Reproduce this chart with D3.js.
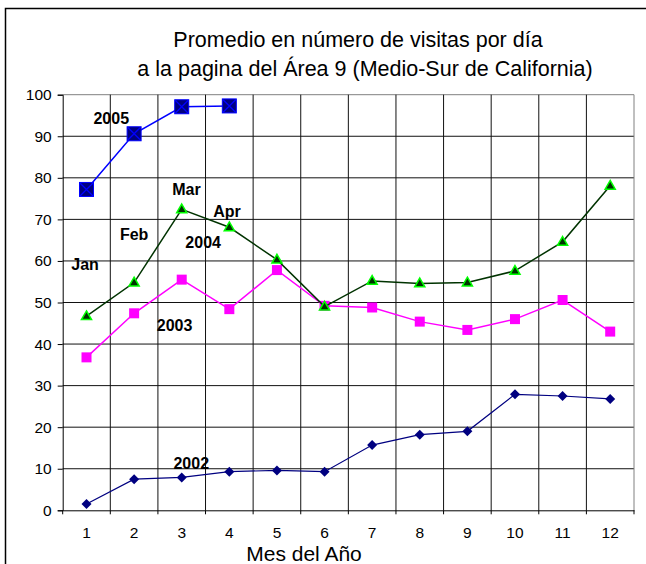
<!DOCTYPE html>
<html>
<head>
<meta charset="utf-8">
<script src="https://cdn.jsdelivr.net/npm/d3@7"></script>
<style>
  body { margin: 0; background: #fff; }
  text { font-family: Arial, "Liberation Sans", sans-serif; }
</style>
</head>
<body>
<script>
// months on the x axis
var months = [1, 2, 3, 4, 5, 6, 7, 8, 9, 10, 11, 12];
var yTicks = [0, 10, 20, 30, 40, 50, 60, 70, 80, 90, 100];

// average visits per day
var v2002 = [1.5, 7.5, 7.9, 9.3, 9.6, 9.3, 15.7, 18.2, 19, 27.9, 27.5, 26.8];
var v2003 = [36.8, 47.4, 55.5, 48.4, 57.8, 49.2, 48.8, 45.4, 43.4, 46, 50.6, 43];
var v2004 = [46.7, 54.8, 72.4, 68.1, 60.3, 49, 55.2, 54.6, 54.8, 57.6, 64.6, 78.1];
var v2005 = [77.2, 90.6, 97.1, 97.3];

// text notes put inside the chart (month, value where they sit)
var notes = [
    { text: "2005", m: 1.52, v: 94.2 },
    { text: "Mar", m: 3.1, v: 77.3 },
    { text: "Apr", m: 3.95, v: 72 },
    { text: "Feb", m: 2.0, v: 66.3 },
    { text: "2004", m: 3.45, v: 64.5 },
    { text: "Jan", m: 0.97, v: 59.2 },
    { text: "2003", m: 2.85, v: 44.5 },
    { text: "2002", m: 3.2, v: 11.2 }
];

var width = 646, height = 564;
// note: "top" is taken by window.top, so the plot edges get their own names
var plotL = 62.7, plotR = 634, plotT = 94.7, plotB = 510.3;

var svg = d3.select("body")
    .append("svg")
    .attr("width", width)
    .attr("height", height);

// outer frame of the chart (right and bottom run off the picture)
svg.append("rect")
    .attr("x", 5.5)
    .attr("y", 8.5)
    .attr("width", 700)
    .attr("height", 700)
    .attr("fill", "none")
    .attr("stroke", "#000")
    .attr("stroke-width", 1.5);

var x = d3.scaleBand()
    .domain(months)
    .range([plotL, plotR]);

var y = d3.scaleLinear()
    .domain([0, 100])
    .range([plotB, plotT]);

// a linear scale for the category borders (gridlines and ticks)
var xb = d3.scaleLinear()
    .domain([0.5, 12.5])
    .range([plotL, plotR]);

// title, two lines
svg.append("text")
    .attr("x", 358)
    .attr("y", 47)
    .attr("text-anchor", "middle")
    .attr("font-size", "21.5px")
    .text("Promedio en número de visitas por día");
svg.append("text")
    .attr("x", 365)
    .attr("y", 76)
    .attr("text-anchor", "middle")
    .attr("font-size", "21.5px")
    .text("a la pagina del Área 9 (Medio-Sur de California)");

// horizontal gridlines
svg.append("g")
    .selectAll("line")
    .data(yTicks.slice(1))
    .enter()
    .append("line")
    .attr("x1", plotL)
    .attr("x2", plotR)
    .attr("y1", function(d){ return y(d); })
    .attr("y2", function(d){ return y(d); })
    .attr("stroke", function(d){ return d == 100 ? "#808080" : "#111"; })
    .attr("stroke-width", 1);

// vertical gridlines on the month borders
svg.append("g")
    .selectAll("line")
    .data(months)
    .enter()
    .append("line")
    .attr("x1", function(d){ return xb(d + 0.5); })
    .attr("x2", function(d){ return xb(d + 0.5); })
    .attr("y1", plotT)
    .attr("y2", plotB)
    .attr("stroke", function(d){ return d == 12 ? "#808080" : "#111"; })
    .attr("stroke-width", 1);

// y axis
var yAxis = d3.axisLeft(y)
    .tickValues(yTicks)
    .tickSize(5)
    .tickPadding(6);
var gy = svg.append("g")
    .attr("transform", "translate(" + plotL + ",0)")
    .call(yAxis);
gy.selectAll("text")
    .attr("font-size", "15.5px")
    .attr("font-family", "Arial, 'Liberation Sans', sans-serif")
    .attr("fill", "#000");
gy.selectAll("line, path").attr("stroke", "#000");

// x axis: labels in the middle of each month, ticks on the borders
var xAxis = d3.axisBottom(x)
    .tickSize(0)
    .tickPadding(17);
var gx = svg.append("g")
    .attr("transform", "translate(0," + plotB + ")")
    .call(xAxis);
gx.select("path").attr("stroke", "#000");
gx.selectAll("text")
    .attr("font-size", "15.5px")
    .attr("font-family", "Arial, 'Liberation Sans', sans-serif")
    .attr("fill", "#000");

svg.append("g")
    .selectAll("line")
    .data(d3.range(0, 13))
    .enter()
    .append("line")
    .attr("x1", function(d){ return xb(d + 0.5); })
    .attr("x2", function(d){ return xb(d + 0.5); })
    .attr("y1", plotB)
    .attr("y2", plotB + 4)
    .attr("stroke", "#000");

// axis title
svg.append("text")
    .attr("x", 304)
    .attr("y", 561)
    .attr("text-anchor", "middle")
    .attr("font-size", "21px")
    .text("Mes del Año");

// line helper
var line = d3.line()
    .x(function(d, i){ return x(months[i]) + x.bandwidth() / 2; })
    .y(function(d){ return y(d); });

function cx(i) { return x(months[i]) + x.bandwidth() / 2; }

// 2002 - navy with diamonds
svg.append("path")
    .datum(v2002)
    .attr("d", line)
    .attr("fill", "none")
    .attr("stroke", "#000080")
    .attr("stroke-width", 1.2);
svg.append("g")
    .selectAll("path")
    .data(v2002)
    .enter()
    .append("path")
    .attr("d", d3.symbol().type(d3.symbolSquare).size(50))
    .attr("transform", function(d, i){ return "translate(" + cx(i) + "," + y(d) + ") rotate(45)"; })
    .attr("fill", "#000080");

// 2003 - magenta with squares
svg.append("path")
    .datum(v2003)
    .attr("d", line)
    .attr("fill", "none")
    .attr("stroke", "#FF00FF")
    .attr("stroke-width", 1.5);
svg.append("g")
    .selectAll("rect")
    .data(v2003)
    .enter()
    .append("rect")
    .attr("x", function(d, i){ return cx(i) - 5; })
    .attr("y", function(d){ return y(d) - 5; })
    .attr("width", 10)
    .attr("height", 10)
    .attr("fill", "#FF00FF");

// 2004 - dark green with triangles
svg.append("path")
    .datum(v2004)
    .attr("d", line)
    .attr("fill", "none")
    .attr("stroke", "#003300")
    .attr("stroke-width", 1.5);
svg.append("g")
    .selectAll("path")
    .data(v2004)
    .enter()
    .append("path")
    .attr("d", d3.symbol().type(d3.symbolTriangle).size(44))
    .attr("transform", function(d, i){ return "translate(" + cx(i) + "," + (y(d) + 0.5) + ")"; })
    .attr("fill", "#003300")
    .attr("stroke", "#00FF00")
    .attr("stroke-width", 1.5);

// 2005 - blue line, navy squares with an x
svg.append("path")
    .datum(v2005)
    .attr("d", line)
    .attr("fill", "none")
    .attr("stroke", "#0000FF")
    .attr("stroke-width", 1.5);
var m05 = svg.append("g")
    .selectAll("g")
    .data(v2005)
    .enter()
    .append("g")
    .attr("transform", function(d, i){ return "translate(" + cx(i) + "," + y(d) + ")"; });
m05.append("rect")
    .attr("x", -7)
    .attr("y", -7)
    .attr("width", 14)
    .attr("height", 14)
    .attr("fill", "#000080")
    .attr("stroke", "#0000FF")
    .attr("stroke-width", 1);
m05.append("path")
    .attr("d", "M-6.5,-6.5L6.5,6.5M-6.5,6.5L6.5,-6.5")
    .attr("stroke", "#0000FF")
    .attr("stroke-width", 1.3);

// notes
svg.append("g")
    .selectAll("text")
    .data(notes)
    .enter()
    .append("text")
    .attr("x", function(d){ return xb(d.m); })
    .attr("y", function(d){ return y(d.v); })
    .attr("dy", "0.35em")
    .attr("text-anchor", "middle")
    .attr("font-size", "16px")
    .attr("font-weight", "bold")
    .text(function(d){ return d.text; });
</script>
</body>
</html>
